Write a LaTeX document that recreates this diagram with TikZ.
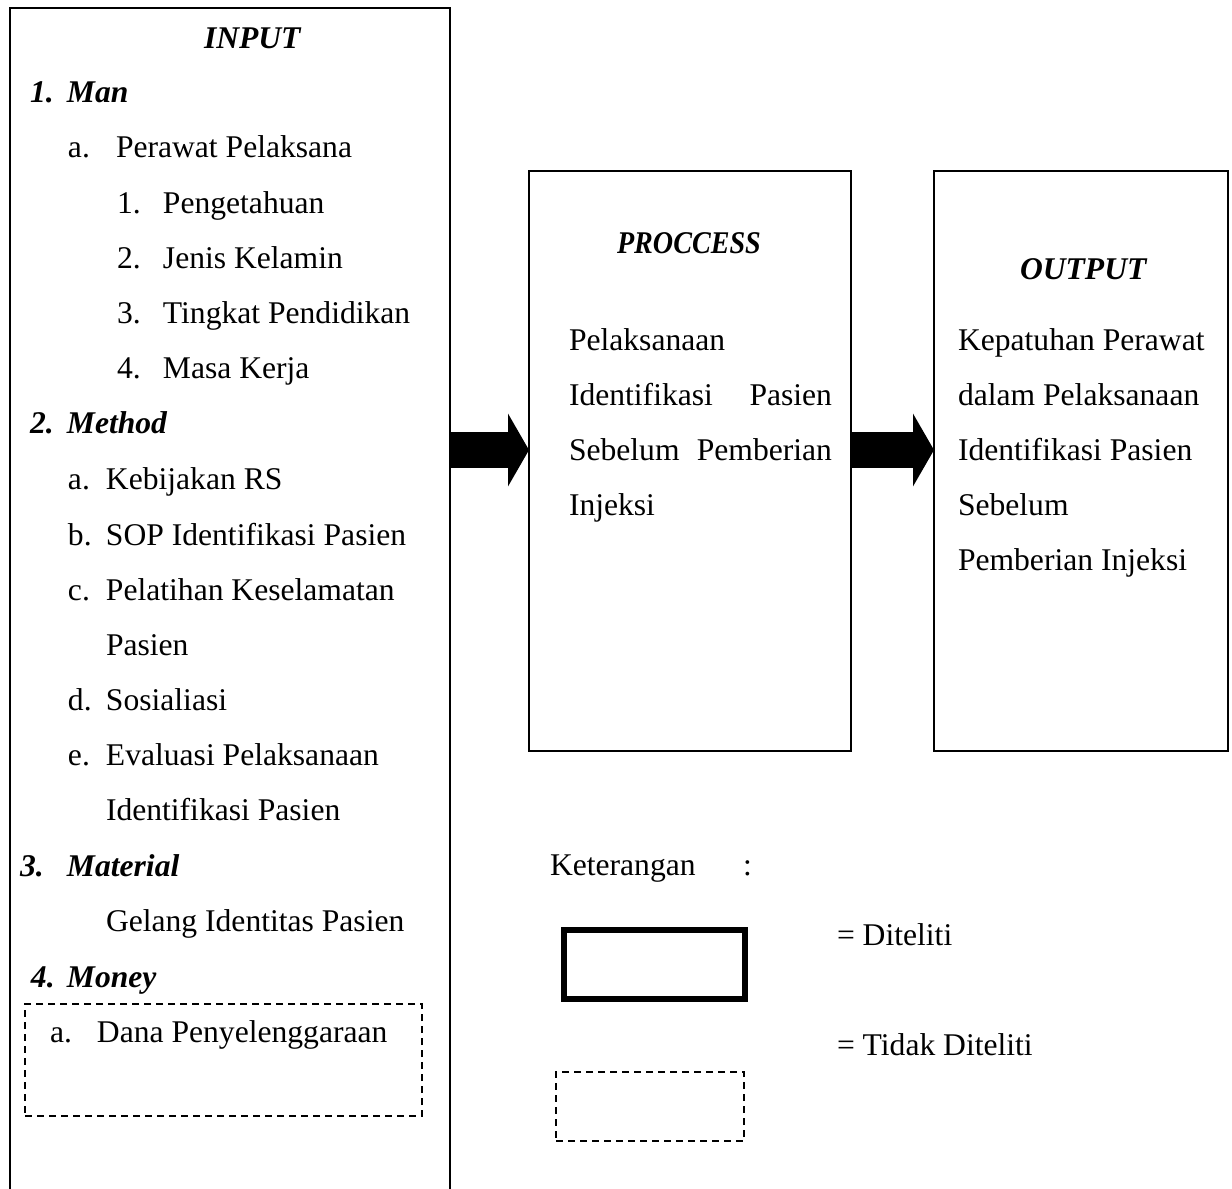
\documentclass[tikz,border=0pt]{standalone}
\usepackage{fontspec}
\usepackage{graphicx}
\setmainfont{Liberation Serif}
\usetikzlibrary{arrows.meta}

\begin{document}
\begin{tikzpicture}[x=0.5pt, y=-0.5pt,
  every node/.style={inner sep=0pt, outer sep=0pt, font=\fontsize{15.8pt}{19pt}\selectfont},
  txt/.style={anchor=base west},
  head/.style={anchor=base west, font=\fontsize{15.8pt}{19pt}\selectfont\bfseries\itshape},
  box/.style={draw, line width=1pt},
  thickbox/.style={draw, line width=3.25pt},
  dashbox/.style={draw, line width=1.1pt, dash pattern=on 3.5pt off 2.5pt},
  bigarrow/.style={line width=18pt, -{Triangle[length=10.5pt, width=36pt]}}]
\useasboundingbox (0,0) rectangle (1232,1189);
\node[minimum width=220pt, minimum height=590.5pt] (input) at (230,598.5) {};
\draw[line width=1pt] (input.south west) |- (input.north) -| (input.south east);
\node[box, minimum width=161pt, minimum height=290pt] (process) at (690,461) {};
\node[box, minimum width=147pt, minimum height=290pt] (output) at (1081,461) {};
\coordinate (arrowline) at (0,450);
\draw[bigarrow] (input.east |- arrowline) -- (process.west |- arrowline);
\draw[bigarrow] (process.east |- arrowline) -- (output.west |- arrowline);

\node[head] (inputtitle) at (204,48) {INPUT};
\node[head] (man) at (30,102) {\makebox[18.5pt][l]{1.}Man};
\node[txt] (perawat) at (68,157) {\makebox[24pt][l]{a.}Perawat Pelaksana};
\node[txt] (pengetahuan) at (117,213) {\makebox[23pt][l]{1.}Pengetahuan};
\node[txt] (kelamin) at (117,268) {\makebox[23pt][l]{2.}Jenis Kelamin};
\node[txt] (pendidikan) at (117,323) {\makebox[23pt][l]{3.}Tingkat Pendidikan};
\node[txt] (masakerja) at (117,378) {\makebox[23pt][l]{4.}Masa Kerja};
\node[head] (method) at (30,433) {\makebox[18.5pt][l]{2.}Method};
\node[txt] (kebijakan) at (68,489) {\makebox[19pt][l]{a.}Kebijakan RS};
\node[txt] (sop) at (68,545) {\makebox[19pt][l]{b.}SOP Identifikasi Pasien};
\node[txt] (pelatihan) at (68,600) {\makebox[19pt][l]{c.}Pelatihan Keselamatan};
\node[txt] (pelatihanb) at (106,655) {Pasien};
\node[txt] (sosialiasi) at (68,710) {\makebox[19pt][l]{d.}Sosialiasi};
\node[txt] (evaluasi) at (68,765) {\makebox[19pt][l]{e.}Evaluasi Pelaksanaan};
\node[txt] (evaluasib) at (106,820) {Identifikasi Pasien};
\node[head] (material) at (20,876) {\makebox[23.5pt][l]{3.}Material};
\node[txt] (gelang) at (106,931) {Gelang Identitas Pasien};
\node[head] (money) at (31,987) {\makebox[18pt][l]{4.}Money};
\node[dashbox, minimum width=198.5pt, minimum height=56pt] (moneybox) at (223.5,1060) {};
\node[txt] (dana) at (50,1042) {\makebox[23.5pt][l]{a.}Dana Penyelenggaraan};

\node[head] (processtitle) at (617,253) {\scalebox{0.89}[1]{PROCCESS}};
\node[txt] (proc1) at (569,350) {Pelaksanaan};
\node[txt] (proc2) at (569,405) {\makebox[131.5pt][s]{Identifikasi Pasien}};
\node[txt] (proc3) at (569,460) {\makebox[131.5pt][s]{Sebelum Pemberian}};
\node[txt] (proc4) at (569,515) {Injeksi};

\node[head] (outputtitle) at (1020,279) {OUTPUT};
\node[txt] (out1) at (958,350) {Kepatuhan Perawat};
\node[txt] (out2) at (958,405) {dalam Pelaksanaan};
\node[txt] (out3) at (958,460) {Identifikasi Pasien};
\node[txt] (out4) at (958,515) {Sebelum};
\node[txt] (out5) at (958,570) {Pemberian Injeksi};

\node[txt] (keterangan) at (550,875) {Keterangan};
\node[txt] (colon) at (743,875) {:};
\node[thickbox, minimum width=90.5pt, minimum height=34.5pt] (diteliti) at (654.5,964.5) {};
\node[txt] (diteliticap) at (837,945) {= Diteliti};
\node[dashbox, minimum width=94pt, minimum height=34.5pt] (tidak) at (650,1106.5) {};
\node[txt] (tidakcap) at (837,1055) {= Tidak Diteliti};
\end{tikzpicture}
\end{document}
